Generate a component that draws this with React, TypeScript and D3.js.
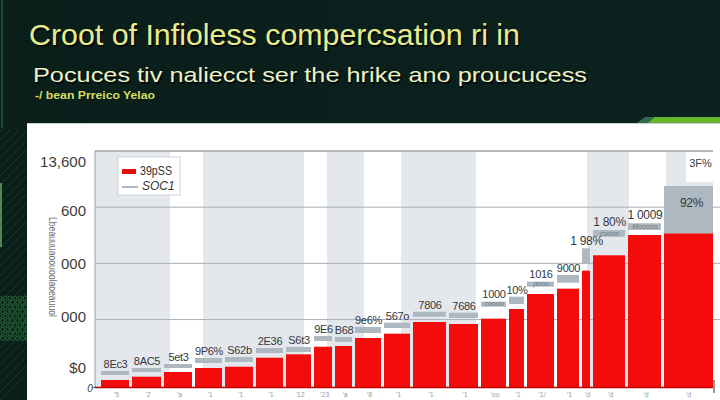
import React from "react";
import * as d3 from "d3";

// ---- data ----
const CATEGORIES = ["'5", "'2", "'a", "'1", "'1", "'1", "'12", "'23", "'a", "'8", "'1", "'1", "'1", "'oo", "'1", "'1/", "'1", "'d", "'d", "'d", "'d"];
const SLOT_WIDTHS = [31, 32, 31, 30, 31, 30, 28, 21, 20, 29, 29, 36, 32, 28, 18, 30, 25, 11, 35, 36, 49];
const COST = [125, 183, 267, 338, 361, 521, 582, 717, 730, 872, 949, 1157, 1121, 1216, 1388, 1655, 1750, 2070, 2344, 2705, 2736];
const SOC_LOW = [214, 267, 338, 427, 445, 605, 623, 819, 801, 961, 1050, 1251, 1228, 1429, 1477, 1785, 1857, 2202, 2675, 2795, 2736];
const SOC_HIGH = [285, 338, 409, 516, 534, 694, 712, 908, 890, 1068, 1145, 1340, 1322, 1518, 1607, 1874, 1994, 2469, 2794, 2914, 3577];
const LABELS = ["8Ec3", "8AC5", "5et3", "9P6%", "S62b", "2E36", "S6t3", "9E6", "B68", "9e6%", "567o", "7806", "7686", "1000", "10%", "1016", "9000", "1 98%", "1 80%", "1 0009", "92%"];
const SUB_LABELS = ["", "", "", "", "", "", "", "", "", "", "", "", "", "coooo", "", "poou", "", "", "coooo", "Mooooo", ""];
const GRID_VALUES = [1200, 2200, 3200, 4200];
const Y_LABEL_VALUES = [340, 1250, 2190, 3140, 4020];
const Y_LABELS = ["$0", "000", "000", "600", "13,600"];
const BANDS: [number, number][] = [[-6, 69], [102, 203], [226, 263], [300, 375], [486, 528], [565, 612]];
const NOTE_LABEL = "3F%";
const LEGEND = ["39pSS", "SOC1"];
const TITLE = "Croot of Infioless compercsation ri in";
const SUBTITLE = "Pocuces tiv naliecct ser the hrike ano proucucess";
const SOURCE = "-/ bean Prreico Yelao";
const Y_TITLE = "Lbeauuuaoouoolaoeauuol";

const FONT = "'Liberation Sans', Arial, sans-serif";

export default function App() {
  const W = 720, H = 400;
  const total = d3.sum(SLOT_WIDTHS);
  const x = d3.scaleLinear().domain([0, total]).range([101, 713]);
  const y = d3.scaleLinear().domain([0, 4200]).range([387, 151]);
  const starts = d3.cumsum([0, ...SLOT_WIDTHS]);
  const gap = 3;

  const diag = d3.range(-20, 30).map((i) => i * 9);
  const mesh: [number, number][] = [];
  for (let r = 0; r < 10; r++) for (let c = 0; c < 6; c++) mesh.push([c * 5 + (r % 2) * 2.5, 298 + r * 4.5]);

  return (
    <svg width={W} height={H} style={{ position: "absolute", left: 0, top: 0, display: "block" }} fontFamily={FONT}>
      <defs>
        <linearGradient id="bg" x1="0" x2="1" y1="0" y2="0">
          <stop offset="0" stopColor="#0a1e1a" />
          <stop offset="1" stopColor="#0c221f" />
        </linearGradient>
        <clipPath id="leftClip"><rect x={0} y={130} width={27} height={270} /></clipPath>
      </defs>
      <rect width={W} height={H} fill="url(#bg)" />
      {/* left decoration */}
      <g clipPath="url(#leftClip)">
        {diag.map((d, i) => (
          <line key={i} x1={0} y1={d + 140} x2={40} y2={d + 100} stroke="#1b4a32" strokeWidth={0.8} opacity={0.8} />
        ))}
        {mesh.map(([mx, my], i) => (
          <circle key={i} cx={mx} cy={my} r={2} fill="none" stroke="#2c7d40" strokeWidth={0.7} />
        ))}
      </g>
      <line x1={2} y1={0} x2={2} y2={128} stroke="#2f6b4a" strokeWidth={1.2} />
      <line x1={1} y1={183} x2={1} y2={247} stroke="#6fa86a" strokeWidth={1.5} />

      {/* header */}
      <text x={30.5} y={46.5} fontSize={29} fill="#000" opacity={0.7} textLength={491} lengthAdjust="spacingAndGlyphs">{TITLE}</text>
      <text x={29} y={45} fontSize={29} fill="#e9ec8e" textLength={491} lengthAdjust="spacingAndGlyphs">{TITLE}</text>
      <text x={34.5} y={83.5} fontSize={21} fill="#000" opacity={0.7} textLength={554} lengthAdjust="spacingAndGlyphs">{SUBTITLE}</text>
      <text x={33} y={82} fontSize={21} fill="#eef0c6" textLength={554} lengthAdjust="spacingAndGlyphs">{SUBTITLE}</text>
      <text x={35} y={99} fontSize={10.5} fontWeight="bold" fill="#d6de63" textLength={120} lengthAdjust="spacingAndGlyphs">{SOURCE}</text>

      {/* green stripe */}
      <polygon points="637,123 645,117 660,117 652,123" fill="#2e6e48" />
      <polygon points="648,123 655,117 720,117 720,123" fill="#67b52f" />

      {/* white panel */}
      <rect x={27} y={123} width={W - 27} height={H - 123} fill="#ffffff" />
      <line x1={27} y1={123.5} x2={720} y2={123.5} stroke="#c9cfd3" strokeWidth={1} />

      {/* background bands */}
      {BANDS.map(([a, b], i) => (
        <rect key={i} x={x(a)} y={y(4200)} width={x(b) - x(a)} height={y(0) - y(4200)} fill="#e4e8ec" />
      ))}

      {/* grid */}
      {GRID_VALUES.map((v, i) => (
        <line key={i} x1={95} x2={i === GRID_VALUES.length - 1 ? 713 : 720} y1={y(v)} y2={y(v)}
          stroke={i === GRID_VALUES.length - 1 ? "#9ea4aa" : "#a9afb5"} strokeWidth={i === GRID_VALUES.length - 1 ? 1.5 : 1} />
      ))}
      <line x1={95} x2={95} y1={y(4200)} y2={y(0)} stroke="#9aa0a6" strokeWidth={1} />

      {/* note box top right */}
      <rect x={x(585)} y={y(4180)} width={x(612) - x(585)} height={y(3650) - y(4180)} fill="#ffffff" />
      <text x={(x(585) + x(612)) / 2 + 1} y={y(4180) + 15} fontSize={11} fill="#3a4148" textAnchor="middle">{NOTE_LABEL}</text>

      {/* y labels */}
      {Y_LABELS.map((t, i) => (
        <text key={i} x={86} y={y(Y_LABEL_VALUES[i])} fontSize={15} fill="#3c3c3c" textAnchor="end" dominantBaseline="central">{t}</text>
      ))}
      <text transform={`translate(53,267) rotate(90)`} fontSize={11} fill="#6a6f74" textAnchor="middle" dominantBaseline="central" textLength={100} lengthAdjust="spacingAndGlyphs">{Y_TITLE}</text>
      <text x={90} y={392} fontSize={10} fill="#444" textAnchor="middle" fontStyle="italic">0</text>
      <line x1={92} x2={96} y1={388} y2={387} stroke="#555" />

      {/* bars */}
      {COST.map((v, i) => {
        const x0 = x(starts[i]);
        const x1 = x(starts[i] + SLOT_WIDTHS[i]) - (i === COST.length - 1 ? 0 : gap);
        return <rect key={i} x={x0} y={y(v)} width={x1 - x0} height={y(0) - y(v)} fill="#f40b0b" />;
      })}
      {/* soc series markers */}
      {SOC_HIGH.map((hi, i) => {
        const x0 = x(starts[i]);
        const x1 = x(starts[i] + SLOT_WIDTHS[i]) - (i === COST.length - 1 ? 0 : gap);
        return <rect key={i} x={x0} y={y(hi)} width={x1 - x0} height={y(SOC_LOW[i]) - y(hi)} fill="#aeb8c0" />;
      })}
      {/* labels */}
      {LABELS.map((t, i) => {
        const cx = x(starts[i] + SLOT_WIDTHS[i] / 2) - 1;
        const stacked = SOC_HIGH[i] - SOC_LOW[i] > 400;
        const hasSub = !!SUB_LABELS[i];
        const ly = stacked ? y(SOC_HIGH[i]) + 21 : y(SOC_HIGH[i]) - (hasSub ? 4 : 3);
        return (
          <g key={i}>
            <text x={stacked ? cx + 4 : cx} y={ly} fontSize={i >= 17 ? 12 : 11} fill="#33393f" textAnchor="middle" letterSpacing={-0.3}>{t}</text>
            {hasSub && (
              <text x={cx} y={y(SOC_LOW[i]) - 0.5} fontSize={7} fill="#6b7c88" textAnchor="middle" fontStyle="italic">{SUB_LABELS[i]}</text>
            )}
          </g>
        );
      })}
      {/* baseline */}
      <line x1={95} x2={713} y1={387.5} y2={387.5} stroke="#c40000" strokeWidth={1.5} />
      <line x1={714} x2={714} y1={380} y2={393} stroke="#333" strokeWidth={1} />

      {/* x labels */}
      {CATEGORIES.map((c, i) => (
        <text key={i} x={x(starts[i] + SLOT_WIDTHS[i] / 2)} y={397} fontSize={7} fill="#9a9a9a" textAnchor="middle">{c}</text>
      ))}

      {/* legend */}
      <rect x={118} y={157} width={62} height={38} fill="#ffffff" stroke="#cfd4d8" strokeWidth={1} />
      <rect x={122} y={169} width={14} height={5} fill="#e80c0c" />
      <text x={140} y={175} fontSize={12} fill="#333" textLength={32} lengthAdjust="spacingAndGlyphs">{LEGEND[0]}</text>
      <line x1={122} x2={138} y1={187} y2={187} stroke="#9aa0a6" strokeWidth={1.5} />
      <text x={142} y={190} fontSize={12} fill="#333" fontStyle="italic">{LEGEND[1]}</text>
    </svg>
  );
}
